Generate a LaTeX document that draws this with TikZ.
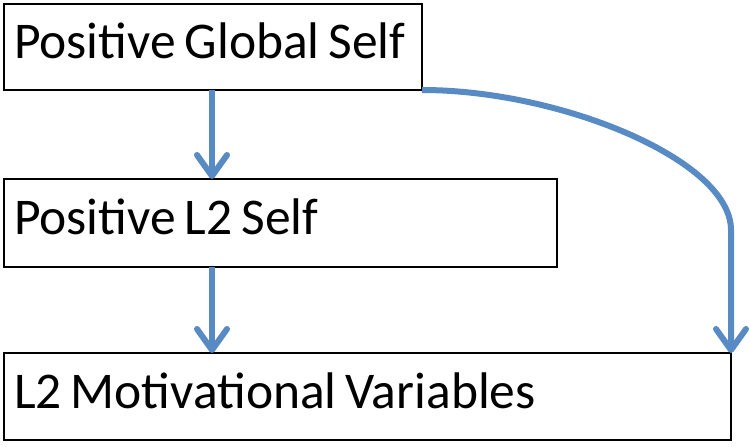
\documentclass[tikz,border=0pt]{standalone}
\usepackage{fontspec}
\setmainfont{Carlito}
\usetikzlibrary{arrows.meta}
\definecolor{arrowblue}{RGB}{88,138,196}
\begin{document}
\begin{tikzpicture}[x=1pt,y=-1pt,
  box/.style={draw=black, line width=2.2pt, rectangle, anchor=north west,
    outer sep=0pt, inner xsep=10pt, inner ysep=0pt, align=left,
    text height=35pt, text depth=12pt, font=\fontsize{51.5}{60}\selectfont,
    execute at begin node={\spaceskip=9pt\relax}},
  flow/.style={draw=arrowblue, line width=6pt,
    -{Straight Barb[length=21pt,width=30pt,line cap=round,line join=round]}}]
\useasboundingbox (0,0) rectangle (750,447);
\node[box, text width=398pt, minimum height=86pt] (b1) at (4,4) {Positive Global Self};
\node[box, text width=533pt, minimum height=88pt] (b2) at (4,179) {Positive L2 Self};
\node[box, text width=707pt, minimum height=87pt] (b3) at (4,353) {L2 Motivational Variables};
\coordinate (ax) at (212,0);
\coordinate (bend) at (731,230);
\draw[flow] (b1.south -| ax) -- (b2.north -| ax);
\draw[flow] (b2.south -| ax) -- (b3.north -| ax);
\draw[flow] (b1.south east) .. controls +(138,0) and +(0,-70) .. (bend) -- (b3.north east);
\end{tikzpicture}
\end{document}
